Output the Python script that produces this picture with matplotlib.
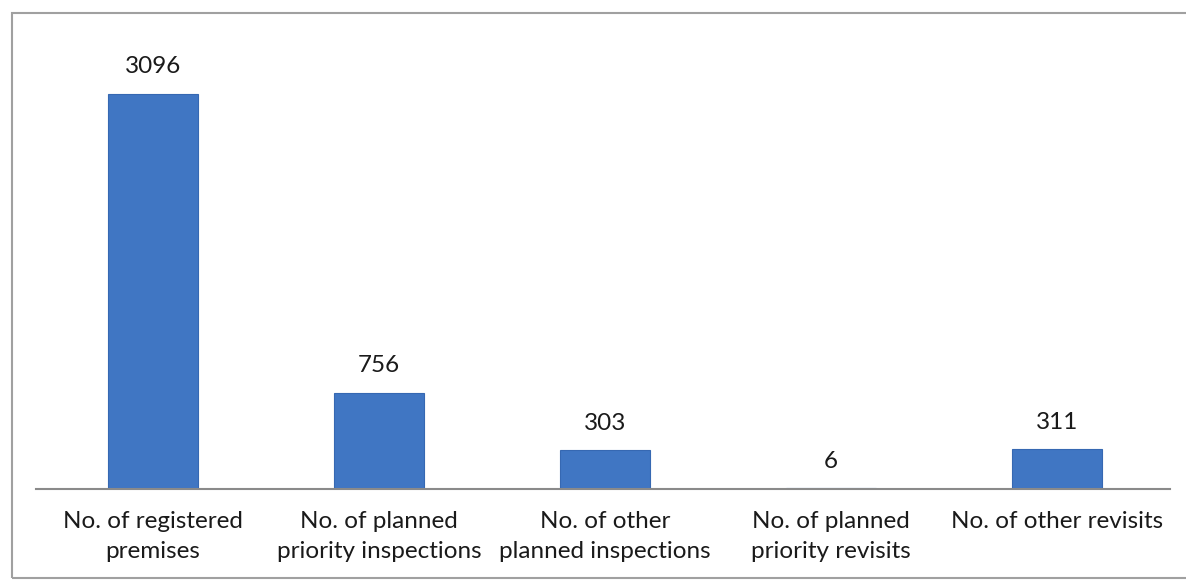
import matplotlib.pyplot as plt
from matplotlib.patches import Rectangle

plt.rcParams['font.family'] = ['Lato', 'DejaVu Sans']

categories = [
    "No. of registered\npremises",
    "No. of planned\npriority inspections",
    "No. of other\nplanned inspections",
    "No. of planned\npriority revisits",
    "No. of other revisits",
]
counts = [3096, 756, 303, 6, 311]

W, H = 1186, 582
fig = plt.figure(figsize=(W / 100, H / 100), dpi=100)

# outer frame of the chart area
fig.patches.append(Rectangle((12 / W, 1 - 578 / H), (W + 10 - 12) / W, (578 - 13) / H,
                             transform=fig.transFigure, fill=False,
                             edgecolor='#a0a0a0', lw=1.5))

ax = fig.add_axes([40 / W, 1 - 489 / H, (1170 - 40) / W, (489 - 40) / H])
x = range(len(categories))
bars = ax.bar(x, counts, width=0.4, color='#4076c3', edgecolor='#3668b2', lw=0.8, zorder=2)

for b, v in zip(bars, counts):
    ax.annotate(f'{v}', (b.get_x() + b.get_width() / 2, v), xytext=(0, 19.5),
                textcoords='offset points', ha='center', va='center',
                fontsize=17.5, color='#1a1a1a')

ax.set_xlim(-0.5, len(categories) - 0.5)
ax.set_ylim(0, 449 / (395 / 3096))
ax.set_xticks(list(x))
ax.set_xticklabels(categories, fontsize=17.5, color='#1a1a1a', linespacing=1.5)
ax.tick_params(axis='x', length=0, pad=16)
ax.set_yticks([])
for side in ['top', 'right', 'left']:
    ax.spines[side].set_visible(False)
ax.spines['bottom'].set_color('#8a8a8a')
ax.spines['bottom'].set_linewidth(1.5)
ax.spines['bottom'].set_bounds(-0.518, 4.502)

fig.savefig('out.png', dpi=100)
